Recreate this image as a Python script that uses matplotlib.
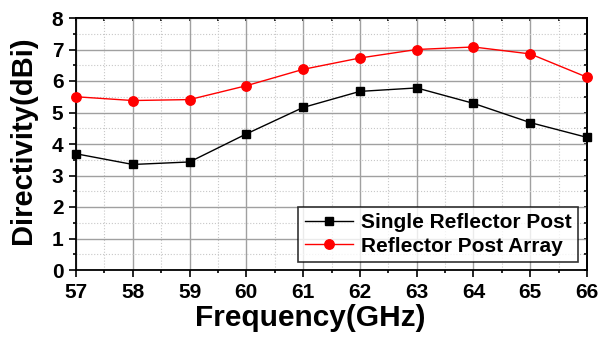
import matplotlib.pyplot as plt
from matplotlib.ticker import MultipleLocator

plt.rcParams['font.family'] = ['Liberation Sans', 'DejaVu Sans']
plt.rcParams['font.weight'] = 'bold'

freq = [57, 58, 59, 60, 61, 62, 63, 64, 65, 66]
single_post = [3.69, 3.35, 3.43, 4.32, 5.16, 5.67, 5.78, 5.29, 4.68, 4.21]
post_array = [5.50, 5.38, 5.41, 5.85, 6.37, 6.73, 7.00, 7.08, 6.86, 6.12]

W, H = 599, 341
L, R, T, B = 76, 587, 18, 270
fig = plt.figure(figsize=(W/100, H/100), dpi=100)
ax = fig.add_axes([L/W, 1-B/H, (R-L)/W, (B-T)/H])

ax.plot(freq, single_post, color='black', marker='s', markersize=6, lw=1,
        label='Single Reflector Post', clip_on=False, zorder=3)
ax.plot(freq, post_array, color='red', marker='o', markersize=6.8, lw=1,
        label='Reflector Post Array', clip_on=False, zorder=3)

ax.set_xlim(57, 66)
ax.set_ylim(0, 8)
ax.xaxis.set_major_locator(MultipleLocator(1))
ax.xaxis.set_minor_locator(MultipleLocator(0.5))
ax.yaxis.set_major_locator(MultipleLocator(1))
ax.yaxis.set_minor_locator(MultipleLocator(0.5))

ax.grid(which='major', color='#a0a0a0', lw=1)
ax.grid(which='minor', color='#c8c8c8', lw=0.8, ls=':')
ax.set_axisbelow(True)

# outward ticks on left/bottom
ax.tick_params(which='both', direction='out', width=1.2, labelsize=15,
               top=False, right=False, pad=4)
ax.tick_params(which='major', length=5)
ax.tick_params(which='minor', length=2.5)
# short inward ticks mirrored on top/right
ax2 = ax.secondary_yaxis('right')
ax2.yaxis.set_major_locator(MultipleLocator(0.5))
ax2.tick_params(direction='in', length=2.5, width=1.2, labelright=False)
ax3 = ax.secondary_xaxis('top')
ax3.xaxis.set_major_locator(MultipleLocator(0.5))
ax3.tick_params(direction='in', length=2.5, width=1.2, labeltop=False)
for a in (ax, ax2, ax3):
    for s in a.spines.values():
        s.set_linewidth(1.3)

ax.set_xlabel('Frequency(GHz)', fontsize=21.5, fontweight='bold', va='top')
ax.xaxis.set_label_coords((310-L)/(R-L), (B-304)/(B-T))
ax.set_ylabel('Directivity(dBi)', fontsize=21, fontweight='bold')
ax.yaxis.set_label_coords((37-L)/(R-L), (B-140)/(B-T))

leg = ax.legend(loc='lower right', fontsize=15, frameon=True, fancybox=False,
                edgecolor='black', borderpad=0.3, handlelength=2.3,
                handletextpad=0.4, labelspacing=0.22, borderaxespad=0,
                bbox_to_anchor=((578-L)/(R-L), (B-262)/(B-T)))
leg.get_frame().set_linewidth(1.2)
for t in leg.get_texts():
    t.set_fontweight('bold')

fig.savefig('out.png', dpi=100)
